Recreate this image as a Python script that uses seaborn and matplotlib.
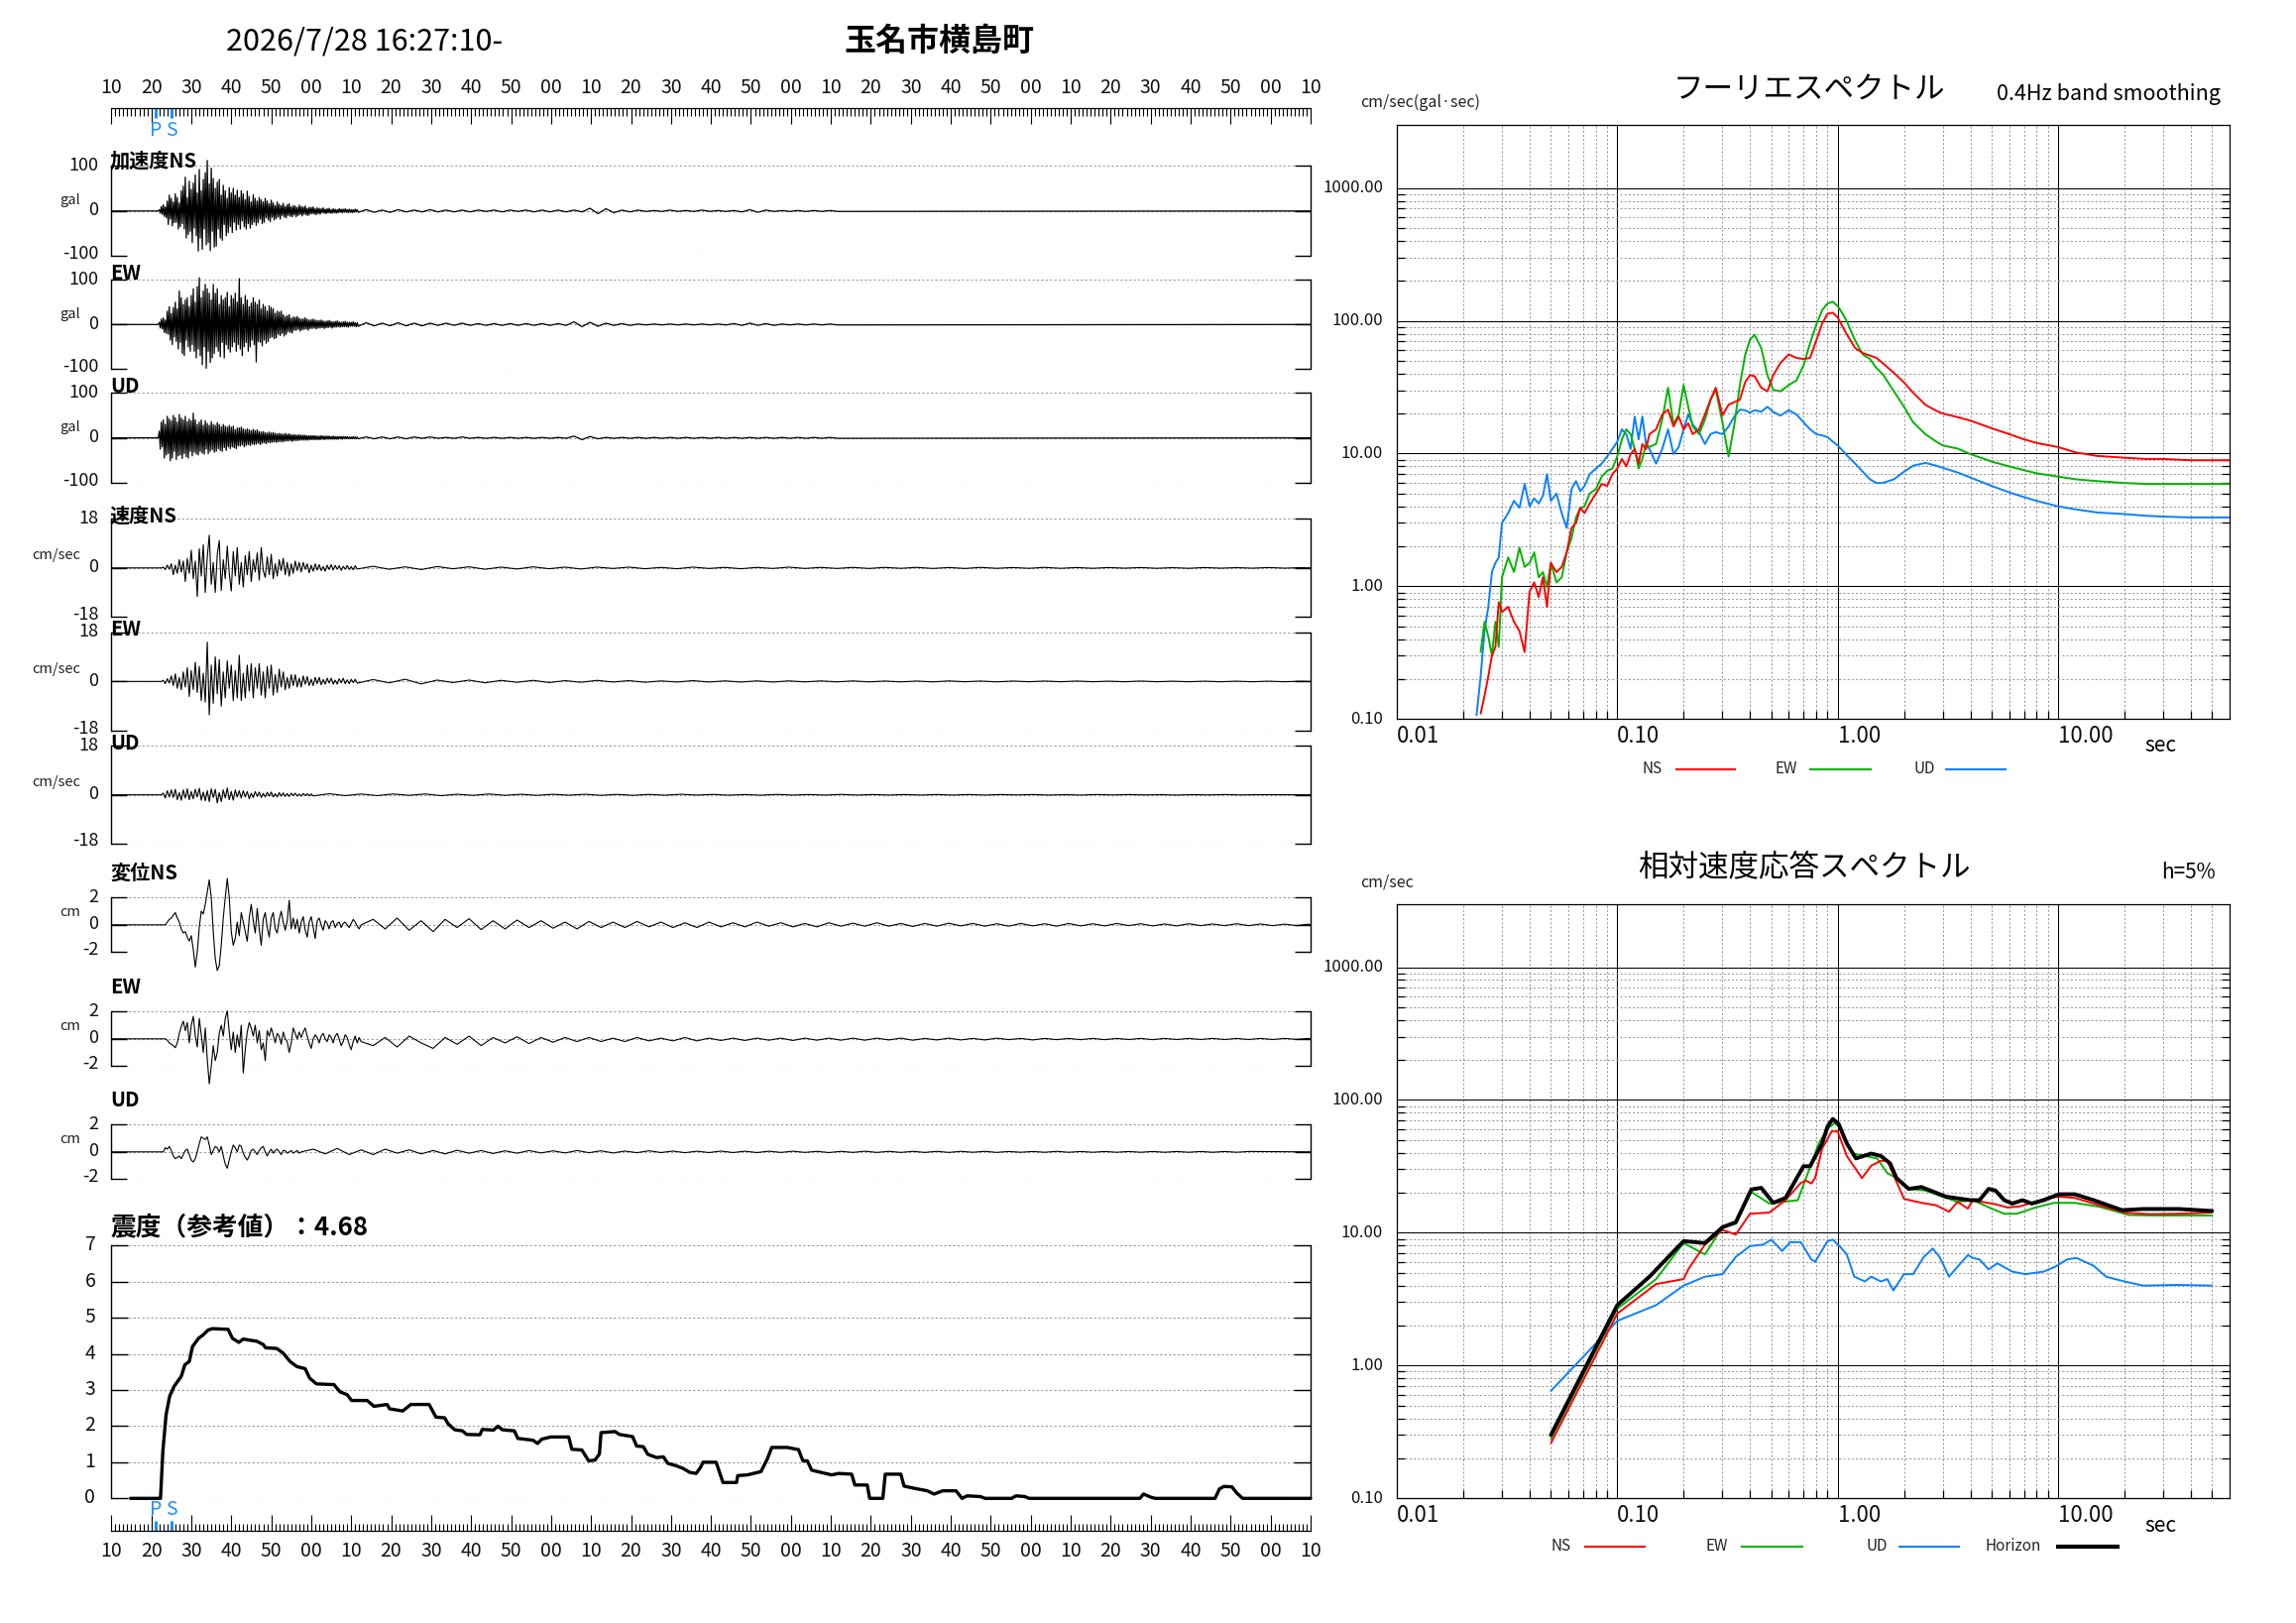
import numpy as np
import matplotlib
matplotlib.use("Agg")
import matplotlib.pyplot as plt
import seaborn as sns
from matplotlib.lines import Line2D
from matplotlib.ticker import MultipleLocator, FuncFormatter, NullFormatter
from matplotlib.transforms import ScaledTranslation

# ============================ DATA ============================
START_SEC = 10          # record starts 16:27:10
P_TIME = 11.2           # seconds after start
S_TIME = 15.1

ACC_T0, ACC_DT, ACC_TAIL_DT = 12.0, 0.25, 2.0
VEL_T0, VEL_DT, VEL_TAIL_DT = 13.0, 0.5, 4.0
DISP_T0, DISP_DT, DISP_TAIL_DT = 13.0, 0.5, 3.0

# acceleration (gal), peaks every 0.25 s
ACC_NS = [3,-5,10,-8,14,-12,9,-15, 22,-30,35,-18,28,-33,20,-26, 38,-25,30,-40,18,-35,45,-28,
          55,-40,75,-60,30,-52,66,-45, 48,-70,62,-38,80,-55,40,-89, 92,-60,45,-85,70,-40,85,-75,
          112,-70,60,-88,95,-45,72,-80, 50,-78,64,-40,70,-60,35,-65, 57,-30,45,-55,28,-48,52,-35,
          40,-48,50,-25,35,-42,46,-30, 30,-40,45,-22,38,-35,25,-40, 44,-28,32,-38,20,-30,36,-25,
          28,-32,22,-26,30,-18,25,-28, 20,-25,28,-15,22,-20,16,-24, 24,-14,18,-20,12,-17,20,-13,
          15,-18,12,-10,17,-14,10,-15, 14,-10,16,-12,9,-13,12,-9, 11,-13,8,-10,13,-8,10,-11,
          9,-7,11,-9,6,-10,8,-7, 8,-6,9,-7,5,-8,7,-6, 6,-7,5,-4,7,-5,4,-6, 5,-4,6,-5,3,-5,5,-4,
          4,-5,3,-4,5,-3,4,-4, 4,-3,5,-3,3,-4,4,-3, 3,-4,3,-3,4,-2,3,-3]
ACC_NS_TAIL = [3,-3,2,-3,3,-2,2,-2,3,-2, 2,-2,2,-2,2,-1,2,-2,2,-1, 2,-2,2,-2,2,-2,2,-2,6,-6,
               5,-4,2,-2,2,-1,1,-1,2,-1, 1,-1,2,-1,1,-1,1,-2,3,-3, 2,-1,1,-1,1,-1,1,-1,1,-1]
ACC_EW = [5,-8,12,-10,15,-18,10,-20, 30,-22,40,-35,25,-45,38,-28, 50,-38,35,-55,75,-40,60,-65,
          45,-70,55,-35,60,-50,40,-60, 65,-45,80,-60,50,-75,85,-55, 105,-70,60,-90,75,-50,90,-98,
          80,-60,70,-85,55,-75,90,-65, 70,-50,80,-60,45,-72,65,-40, 55,-75,60,-45,72,-55,40,-62,
          65,-50,58,-40,70,-60,50,-45, 103,-55,60,-70,45,-50,65,-40, 55,-60,40,-50,48,-35,60,-45,
          50,-84,45,-38,55,-40,35,-48, 45,-35,40,-42,30,-38,42,-30, 38,-28,35,-32,25,-30,30,-22,
          28,-25,30,-20,22,-26,18,-22, 20,-16,22,-18,14,-19,17,-13, 16,-13,18,-11,14,-15,12,-12,
          13,-11,15,-10,12,-13,10,-9, 11,-9,12,-8,10,-10,9,-8, 9,-8,10,-7,8,-9,7,-7, 8,-7,9,-6,7,-8,6,-6,
          7,-6,8,-5,6,-6,5,-5, 6,-5,7,-5,5,-6,5,-4, 5,-4,6,-4,4,-5,4,-4]
ACC_EW_TAIL = [4,-3,3,-3,4,-3,3,-3,3,-2, 3,-2,3,-2,2,-2,2,-2,2,-2, 2,-2,2,-2,2,-2,6,-5,5,-4,
               3,-2,2,-2,1,-1,1,-1,1,-1, 1,-1,1,-1,1,-1,2,-2,3,-2, 2,-2,1,-1,1,-1,1,-1,1,-1]
ACC_UD = [15,-25,35,-20,40,-45,30,-38, 48,-35,42,-51,38,-45,50,-30, 45,-48,35,-40,52,-38,44,-46,
          40,-35,48,-42,36,-45,42,-30, 38,-40,55,-32,40,-36,30,-38, 35,-30,40,-34,28,-36,38,-25,
          32,-35,28,-30,36,-26,30,-32, 28,-30,34,-24,30,-28,25,-30, 30,-22,26,-28,24,-20,28,-24,
          24,-20,26,-22,18,-24,22,-18, 22,-18,24,-16,20,-20,18,-17, 20,-15,18,-17,16,-14,19,-15,
          16,-14,18,-12,14,-15,13,-12, 14,-11,12,-13,11,-10,13,-11, 11,-10,12,-9,10,-10,9,-9,
          10,-8,9,-9,8,-8,10,-7, 8,-7,9,-6,7,-8,7,-6, 7,-6,6,-6,7,-5,6,-5, 6,-5,6,-5,5,-5,5,-4,
          5,-4,5,-4,5,-4,4,-4, 4,-4,5,-3,4,-4,4,-3, 4,-3,4,-3,3,-3,4,-3, 3,-3,3,-3,3,-2,3,-3,
          3,-2,3,-2,3,-2,2,-2, 2,-2,3,-2,2,-2,2,-2]
ACC_UD_TAIL = [2,-2,2,-2,2,-2,2,-1,2,-1, 1,-1,2,-1,1,-1,1,-1,1,-1, 1,-1,1,-1,1,-1,4,-4,3,-2,
               1,-1,1,-1,1,-1,1,-1,1,-1, 1,-1,1,-1,1,-1,1,-1,1,-1, 1,-1,1,-1,1,-1,1,-1,1,-1]

# velocity (cm/sec), every 0.5 s
VEL_NS = [0.3,-0.6,1.0,-0.5, 1.5,-2.5,1.0,-2.0,3.0,-1.5, 2.5,-5.0,3.5,-2.0,6.5,-4.0,
          2.5,-10.5,7.0,-3.0,8.5,-9.0, 4.0,12.0,-6.0,2.0,-9.0,5.0, 10.0,-8.3,3.0,-4.0,8.0,-2.0,
          -8.5,6.0,-3.0,7.5,-6.0,2.0, -7.0,4.5,-2.5,6.0,-5.0,3.0, -1.5,5.5,-4.5,7.5,-1.0,-3.5,
          4.0,-2.5,5.0,-4.0,1.5,-3.0, 3.0,-1.0,3.5,-2.5,2.0,-3.0, 1.5,-2.0,2.5,-1.0,2.0,-1.5,
          2.0,-0.5,1.5,-1.8,1.0,-1.2, 1.5,-0.8,1.2,-1.0,0.5,-1.2, 1.0,-0.6,1.2,-0.8,0.9,-0.5,
          0.8,-0.9,0.6,-0.5,0.9,-0.6, 0.5,-0.7,0.8,-0.4]
VEL_NS_TAIL = [0.6,-0.5,0.4,-0.6,0.5,-0.3,0.4,-0.5,0.3,-0.4, 0.4,-0.3,0.3,-0.4,0.3,-0.2,0.3,-0.3,0.2,-0.3,
               0.3,-0.2,0.2,-0.3,0.2,-0.2,0.3,-0.2,0.2,-0.2, 0.2,-0.2,0.2,-0.15,0.2,-0.2,0.15,-0.2,0.2,-0.15,
               0.15,-0.15,0.2,-0.15,0.15,-0.15,0.15,-0.1,0.15,-0.15, 0.1,-0.15,0.15,-0.1,0.1,-0.1,0.15,-0.1,0.1]
VEL_EW = [0.4,-0.8,1.0,-0.6, 2.0,-1.5,2.8,-2.5,1.5,-3.0, 3.5,-2.0,5.0,-5.5,4.0,-3.0,
          7.0,-4.0,5.5,-7.0,3.0,-7.5, 14.4,-12.2,6.0,-8.0,9.0,-4.5, 8.0,-9.0,3.5,-6.0,7.5,-2.5,
          6.0,-7.0,4.0,-6.0,9.6,-7.0, 3.0,-6.0,6.0,-3.5,6.5,-6.0, 5.0,-2.5,6.5,-5.0,3.5,-6.0,
          5.5,-2.5,6.0,-5.0,2.5,-4.0, 4.5,-2.0,3.5,-3.0,1.5,-2.5, 2.5,-1.5,2.5,-2.0,1.2,-2.0,
          2.0,-1.0,1.8,-1.5,0.8,-1.5, 1.5,-0.8,1.5,-1.2,0.7,-1.0, 1.2,-0.6,1.2,-1.0,0.5,-1.0,
          1.0,-0.5,1.2,-0.8,0.6,-0.8, 0.8,-0.4,0.8,-0.6]
VEL_EW_TAIL = [0.7,-0.5,0.8,-0.9,0.5,-0.4,0.5,-0.5,0.4,-0.3, 0.4,-0.4,0.3,-0.3,0.4,-0.2,0.3,-0.3,0.2,-0.2,
               0.3,-0.2,0.2,-0.2,0.2,-0.2,0.2,-0.15,0.2,-0.15, 0.2,-0.15,0.15,-0.15,0.15,-0.15,0.2,-0.1,0.15,-0.15,
               0.15,-0.1,0.15,-0.1,0.15,-0.1,0.1,-0.1,0.15,-0.1, 0.1,-0.1,0.1,-0.1,0.1,-0.1,0.1,-0.1,0.1]
VEL_UD = [0.6,-1.2,1.5,-0.8, 1.8,-1.0,2.0,-1.8,0.8,-2.0, 1.8,-1.2,2.2,-1.8,1.2,-1.5, 2.0,-0.8,2.4,-2.0,1.0,-2.2,
          1.5,-2.5,2.2,-1.0,2.0,-3.0, 0.8,-2.5,1.8,-1.2,2.5,-1.8, 1.2,-2.0,1.8,-0.8,1.5,-1.2,
          1.5,-0.8,1.2,-1.5,0.6,-1.0, 1.2,-0.6,1.0,-1.0,0.5,-0.8, 0.9,-0.5,1.0,-0.8,0.4,-0.8,
          0.8,-0.5,0.7,-0.6,0.4,-0.6, 0.6,-0.3,0.6,-0.5,0.3,-0.5, 0.5,-0.3,0.4,-0.4,0.3,-0.4]
VEL_UD_TAIL = [0.4,-0.3,0.3,-0.3,0.3,-0.2,0.3,-0.3,0.2,-0.2, 0.3,-0.2,0.2,-0.2,0.2,-0.15,0.2,-0.2,0.15,-0.2,
               0.15,-0.15,0.2,-0.1,0.15,-0.15,0.1,-0.15,0.15,-0.1, 0.1,-0.1,0.15,-0.1,0.1,-0.1,0.1,-0.1,0.1,-0.1,
               0.1,-0.1,0.1,-0.05,0.1,-0.1,0.05,-0.1,0.1,-0.05, 0.1,-0.05,0.05,-0.1,0.05,-0.05,0.1,-0.05,0.05]

# displacement (cm), every 0.5 s
DISP_NS = [0,0,0.2,0.4, 0.5,0.7,0.9,0.5,0.2,-0.3, -0.6,-0.5,-0.9,-1.2,-0.8,-1.8, -3.1,-2.0,-0.2,1.0,0.8,1.5,
           2.4,3.3,2.0,-0.5,-2.5,-3.35, -3.0,-1.5,0.5,2.0,3.4,2.0, -0.5,-1.5,-1.0,0.2,-0.8,0.9,
           0.2,-0.5,-1.2,0.5,1.5,0.3, -0.6,1.2,-0.3,-1.5,0.4,0.9, -0.2,-0.9,0.5,0.9,-0.3,-0.6,
           0.4,1.0,0.2,-0.4,0.3,1.8, -0.3,0.5,-0.3,0.4,-0.6,0.2, 0.6,-0.4,-0.9,0.2,0.6,-0.2,
           -1.0,0.3,0.5,0.0,-0.4,0.3, 0.1,-0.3,0.2,0.3,-0.2,0.1, 0.2,-0.2,0.1,0.2,0.0,-0.2, 0.1,0.4,0.2,-0.1,-0.3,0.0]
DISP_NS_TAIL = [0.4,-0.3,0.5,-0.4,0.3,-0.5,0.4,-0.2,0.45,-0.35, 0.3,-0.3,0.35,-0.2,0.3,-0.25,0.2,-0.3,0.25,-0.2,
                0.2,-0.2,0.25,-0.15,0.2,-0.2,0.15,-0.2,0.2,-0.15, 0.15,-0.15,0.2,-0.1,0.15,-0.15,0.1,-0.15,0.15,-0.1,
                0.12,-0.1,0.15,-0.1,0.1,-0.12,0.1,-0.1,0.12,-0.08, 0.1,-0.1,0.08,-0.1,0.1,-0.08,0.08,-0.1,0.1,-0.08,
                0.08,-0.08,0.1,-0.06,0.08,-0.08,0.06,-0.08,0.08,-0.06, 0.06,-0.06,0.08,-0.06,0.06,-0.06,0.05,-0.06,0.05]
DISP_EW = [0,0,-0.1,-0.3, -0.4,-0.5,-0.65,-0.3,0.4,0.9, 1.3,0.6,1.2,-0.3,1.0,1.65, 0.2,-0.6,1.5,0.3,-1.0,0.8,
           -1.5,-3.3,-2.0,-0.5,-1.6,-1.0, 0.4,1.0,0.2,1.5,2.05,0.5, -0.8,0.5,-1.0,0.3,-0.6,1.0,
           -2.5,-0.8,0.5,1.2,0.8,0.2, 1.0,-0.3,0.6,-0.8,-0.3,-1.6, 0.6,0.2,0.8,0.3,-0.3,0.4,
           0.2,-0.4,0.5,0.0,-0.2,-1.0, -0.3,0.8,0.4,0.0,0.5,0.1, 0.5,0.8,0.2,-0.3,-0.7,0.0,
           0.3,0.1,-0.3,0.2,0.4,0.0, -0.2,0.3,0.1,-0.3,0.2,0.4, 0.0,-0.5,-0.2,0.3,0.1,-0.4, -0.8,-0.2,0.2,-0.3,0.1,-0.2]
DISP_EW_TAIL = [-0.5,0.1,-0.6,0.2,-0.3,-0.7,0.1,-0.4,0.2,-0.5, 0.1,-0.3,0.15,-0.35,0.1,-0.25,0.1,-0.2,0.1,-0.2,
                0.05,-0.2,0.1,-0.15,0.05,-0.15,0.1,-0.15,0.05,-0.12, 0.05,-0.12,0.05,-0.1,0.05,-0.12,0.05,-0.1,0.05,-0.1,
                0.05,-0.1,0.05,-0.08,0.05,-0.1,0.03,-0.08,0.05,-0.08, 0.03,-0.08,0.05,-0.06,0.03,-0.08,0.03,-0.06,0.03,-0.06,
                0.03,-0.06,0.03,-0.05,0.03,-0.06,0.03,-0.05,0.03,-0.05, 0.03,-0.05,0.03,-0.05,0.03,-0.05,0.03,-0.04,0.03]
DISP_UD = [0,0.3,0.2,0.4, 0.1,-0.3,-0.5,-0.4,-0.3,-0.5, -0.2,0.1,0.2,-0.2,-0.6,-0.75, -0.5,0.0,0.6,1.1,1.0,0.9,
           1.1,0.5,-0.2,0.1,0.4,0.3, 0.0,0.4,-0.3,-0.9,-1.2,-0.6, 0.0,0.5,0.3,0.0,0.5,0.4,
           -0.1,-0.4,-0.6,-0.3,0.1,0.2, 0.0,-0.2,0.1,0.3,0.4,0.0, -0.3,0.0,0.2,-0.1,0.1,0.2,
           0.0,-0.2,0.1,0.1,-0.1,0.0, 0.1,-0.1,0.0,0.1,-0.1,0.0]
DISP_UD_TAIL = [0.2,-0.15,0.25,-0.2,0.15,-0.2,0.2,-0.1,0.15,-0.15, 0.1,-0.15,0.12,-0.1,0.1,-0.12,0.08,-0.1,0.1,-0.08,
                0.08,-0.08,0.1,-0.06,0.08,-0.08,0.06,-0.06,0.08,-0.05, 0.06,-0.06,0.05,-0.05,0.06,-0.05,0.05,-0.05,0.05,-0.04,
                0.05,-0.04,0.04,-0.05,0.04,-0.04,0.05,-0.04,0.04,-0.04, 0.04,-0.04,0.04,-0.04,0.04,-0.03,0.04,-0.04,0.03,-0.03,
                0.03,-0.03,0.04,-0.03,0.03,-0.03,0.03,-0.03,0.03,-0.03, 0.03,-0.03,0.03,-0.03,0.03,-0.03,0.03,-0.03,0.03]

# seismic intensity (time s, value)
INTENSITY = [(4.8,0),(12.3,0),(12.9,1.32),(13.7,2.32),(14.6,2.83),(15.7,3.10),(17.5,3.38),(18.4,3.70),
    (19.5,3.79),(20.3,4.20),(21.8,4.43),(22.9,4.52),(24.2,4.66),(25.3,4.70),(29.2,4.68),(30.3,4.43),
    (31.9,4.32),(33.0,4.41),(36.4,4.35),(38.0,4.26),(38.6,4.17),(41.4,4.15),(43.0,4.02),(44.7,3.79),
    (46.4,3.65),(48.5,3.59),(49.6,3.33),(51.3,3.17),(55.7,3.15),(57.2,2.95),(59.0,2.87),(60.1,2.71),
    (64.0,2.71),(65.7,2.55),(69.0,2.60),(69.6,2.48),(72.9,2.42),(74.9,2.60),(79.5,2.60),(81.2,2.25),
    (83.4,2.23),(84.2,2.07),(85.9,1.90),(87.8,1.87),(88.9,1.77),(92.2,1.76),(92.8,1.91),(95.6,1.89),
    (96.7,2.00),(97.8,1.90),(100.8,1.87),(101.7,1.66),(105.5,1.61),(106.6,1.52),(107.7,1.64),(109.9,1.70),
    (114.4,1.70),(115.2,1.36),(117.7,1.34),(119.4,1.04),(121.0,1.06),(122.1,1.23),(122.5,1.82),(126.0,1.85),
    (127.1,1.77),(130.4,1.71),(131.4,1.45),(133.1,1.43),(134.2,1.22),(136.4,1.13),(138.1,1.15),(139.2,0.97),
    (141.4,0.90),(143.0,0.83),(144.7,0.72),(146.3,0.69),(147.4,0.86),(148.0,1.00),(151.3,1.00),(153.0,0.44),
    (156.4,0.44),(156.7,0.63),(159.1,0.65),(162.5,0.74),(164.1,1.09),(165.2,1.41),(169.1,1.41),(171.9,1.35),
    (173.0,1.04),(174.1,1.04),(175.2,0.78),(177.5,0.72),(180.2,0.65),(181.9,0.69),(185.2,0.67),(186.0,0.37),
    (189.1,0.37),(189.7,0),(193.0,0),(193.6,0.67),(197.5,0.67),(198.3,0.34),(200.8,0.28),(204.1,0.21),
    (205.8,0.12),(208.0,0.21),(211.3,0.21),(212.8,0),(214.1,0.07),(217.4,0.05),(218.6,0),(225.2,0),
    (226.3,0.07),(228.5,0.05),(229.6,0),(257.3,0),(258.2,0.12),(260.1,0.03),(261.2,0),(276.1,0),
    (277.2,0.26),(278.3,0.33),(280.3,0.32),(281.6,0.14),(283.0,0),(300.0,0)]
INTENSITY_VALUE = "4.68"

# Fourier spectra (period s / cm/sec)
F_PERIOD = [0.023,0.024,0.025,0.026,0.027,0.028,0.029,0.030,0.032,0.034,0.036,0.038,0.040,0.042,0.044,0.046,
    0.048,0.050,0.053,0.056,0.059,0.062,0.065,0.068,0.071,0.075,0.080,0.085,0.090,0.095,0.100,0.105,0.110,
    0.115,0.120,0.125,0.130,0.135,0.140,0.150,0.160,0.170,0.180,0.190,0.200,0.210,0.220,0.235,0.250,0.265,
    0.280,0.300,0.320,0.340,0.360,0.380,0.400,0.420,0.450,0.480,0.510,0.550,0.600,0.650,0.700,0.750,0.800,
    0.850,0.900,0.950,1.00,1.05,1.10,1.20,1.30,1.40,1.50,1.60,1.80,2.00,2.20,2.50,2.80,3.00,3.50,4.00,5.00,
    6.00,7.00,8.00,10.0,12.0,15.0,20.0,25.0,30.0,40.0,50.0,60.0]
F_NS = [np.nan,0.11,0.15,0.21,0.30,0.35,0.76,0.64,0.70,0.54,0.46,0.32,0.91,1.07,0.83,1.17,
    0.70,1.5,1.28,1.4,1.8,2.75,3.0,3.9,3.56,4.2,5.0,5.9,5.7,7.0,7.7,9.1,8.0,
    9.9,10.8,8.4,11.8,10.8,14,15.2,19.7,21.4,16,19,15.2,16.9,14,15.2,19.7,25.4,
    31.3,19.4,23.3,24.4,25.4,34.3,38.9,38.2,31.3,29.4,38.9,48,55.8,52.5,51.5,52.5,71,
    95,113,115,106,91,79,62.4,57.1,54.7,52.5,48,40.5,34.3,28.7,23.3,21,20,18.8,17.7,15.5,
    14,12.8,12,11.2,10.2,9.6,9.3,9.1,9.1,8.9,8.9,8.9]
F_EW = [np.nan,0.32,0.54,0.42,0.30,0.54,0.35,1.17,1.65,1.28,1.95,1.4,1.5,1.8,1.17,1.28,
    0.99,1.5,1.07,1.17,1.8,2.3,3.3,3.9,4.0,5.0,5.4,6.7,7.4,7.7,9.5,12.8,15.2,
    14,10.8,7.7,9.1,11.8,11.2,11.8,18,31.3,16.6,19.7,32.8,22.5,16,14,18,25.4,
    30.2,17.2,9.5,16.6,32.8,54.7,72,78.5,62.4,38.9,30.2,29.4,32.8,35.5,46.1,67.9,93.4,
    120,135,139,129,114,99,71,55.8,51.5,44,39.7,29.4,22.5,17.2,14,12.3,11.5,10.9,9.9,8.7,
    8.0,7.5,7.1,6.7,6.4,6.2,6.0,5.9,5.9,5.9,5.9,5.9]
F_UD = [0.107,0.21,0.46,0.70,1.28,1.5,1.65,3.0,3.56,4.4,3.9,5.9,4.0,4.6,4.2,4.8,
    7.0,4.4,5.0,3.56,2.75,5.4,6.2,5.2,5.7,7.0,7.7,8.4,9.5,10.8,12.3,15.2,14,
    10.8,19,12.8,19,11.8,10.8,8.4,10.8,15.2,9.9,11.2,15.2,19.7,16.6,14.5,11.8,14,
    14.5,14,16,19,21.4,21.2,20.3,21.2,20.6,22.5,20.6,19.3,21.2,19.7,17.2,15.2,14,
    13.7,13.3,12.3,11.5,10.6,9.7,8.4,7.3,6.4,6.0,6.0,6.4,7.3,8.1,8.5,8.1,7.8,7.2,6.6,5.7,
    5.1,4.7,4.4,4.0,3.8,3.6,3.5,3.4,3.35,3.3,3.3,3.3]

# Relative velocity response spectra h=5% (period s, cm/sec)
R_NS = [(0.05,0.26),(0.10,2.46),(0.15,4.11),(0.20,4.48),(0.21,5.3),(0.25,8.15),(0.30,10.5),(0.345,9.7),
    (0.40,13.9),(0.49,14.2),(0.58,17.6),(0.68,23.7),(0.72,24.7),(0.76,23.5),(0.79,25.8),(0.85,43),(0.94,58),
    (1.0,58),(1.1,37.9),(1.21,30.1),(1.29,25.8),(1.42,32),(1.57,34.8),(1.68,34.8),(2.0,18),(2.4,16.8),
    (2.8,16.1),(3.2,14.4),(3.5,17.1),(3.9,15.2),(4.1,17.6),(4.5,17.1),(5.2,16.4),(5.9,15.5),(6.7,15.8),
    (7.6,16.8),(9.0,18.3),(10.1,18.7),(11.9,18.3),(14.5,16.6),(20,14.2),(26,13.8),(35,13.9),(50,14.2)]
R_EW = [(0.05,0.28),(0.10,2.68),(0.15,4.48),(0.20,8.36),(0.25,6.87),(0.30,11.0),(0.345,11.7),(0.406,20.3),
    (0.49,16.6),(0.66,17.6),(0.74,29.4),(0.82,47),(0.90,60.7),(0.97,67.1),(1.03,60.7),(1.17,39.5),(1.33,37.9),
    (1.51,36.3),(1.68,28.1),(1.85,25.8),(2.1,21.4),(2.5,20.8),(3.1,18.3),(3.5,17.1),(4.1,17.6),(5.0,15.2),
    (5.7,13.9),(6.5,13.9),(7.9,15.5),(9.6,16.8),(11.9,16.8),(15.4,15.7),(21,13.6),(27.6,13.5),(50,13.5)]
R_UD = [(0.05,0.644),(0.10,2.17),(0.15,2.85),(0.20,4.0),(0.25,4.67),(0.30,4.88),(0.345,6.58),(0.40,7.94),
    (0.46,8.15),(0.50,8.87),(0.56,7.3),(0.61,8.5),(0.68,8.5),(0.76,6.3),(0.79,6.04),(0.90,8.65),(0.95,8.87),
    (1.03,7.8),(1.10,6.87),(1.19,4.67),(1.33,4.3),(1.42,4.67),(1.57,4.3),(1.68,4.48),(1.79,3.68),(2.0,4.88),
    (2.2,4.88),(2.46,6.58),(2.7,7.6),(2.9,6.58),(3.2,4.67),(3.5,5.55),(3.9,6.8),(4.1,6.47),(4.4,6.3),
    (4.84,5.3),(5.3,5.89),(6.2,5.1),(7.1,4.88),(8.6,5.1),(9.7,5.55),(11.0,6.3),(12.1,6.47),(14.5,5.64),
    (16.5,4.67),(20,4.3),(24.3,4.0),(35,4.05),(50,4.0)]
R_H = [(0.05,0.30),(0.10,2.85),(0.14,4.67),(0.20,8.65),(0.25,8.36),(0.30,11.0),(0.345,12.0),(0.406,21.2),
    (0.45,21.8),(0.51,16.8),(0.58,18.3),(0.70,31.7),(0.75,31.7),(0.85,47),(0.90,63.2),(0.95,71.9),(1.01,66.1),
    (1.10,47),(1.21,36.3),(1.42,39.5),(1.57,37.9),(1.73,33.3),(1.85,25.8),(2.1,21.4),(2.4,22.1),(3.1,18.7),
    (4.0,17.6),(4.4,17.6),(4.84,21.4),(5.2,20.8),(5.7,17.6),(6.2,16.6),(6.9,17.6),(7.6,16.6),(8.6,17.6),
    (10.1,19.5),(11.9,19.5),(14.5,17.6),(19.5,14.8),(24.3,15.1),(35.3,15.1),(50,14.6)]

TITLE_TIME = "2026/7/28 16:27:10-"
TITLE_SITE = "玉名市横島町"

# ============================ STYLE / LAYOUT ============================
sns.set_theme(style="white")
plt.rcParams['font.family'] = ['Noto Sans CJK JP', 'DejaVu Sans']
plt.rcParams['axes.unicode_minus'] = False

W, H = 2316, 1637
fig = plt.figure(figsize=(W / 100, H / 100), dpi=100, facecolor='white')

RED, GREEN, BLUE, PSBLUE = '#ff0000', '#00b400', '#0a80ff', '#1e8fff'
GRID_GRAY = '#9a9a9a'
DOT = (0, (2, 2))


def pt(pixels):
    return pixels * 72.0 / 100.0


def px_axes(x0, y0, x1, y1):
    return fig.add_axes([x0 / W, 1 - y1 / H, (x1 - x0) / W, (y1 - y0) / H])


def ftext(x, y, s, size, ha='left', va='center', weight='normal', color='black'):
    fig.text(x / W, 1 - y / H, s, fontsize=size, ha=ha, va=va, fontweight=weight, color=color)


def fline(x0, x1, y, color, lw):
    fig.add_artist(Line2D([x0 / W, x1 / W], [1 - y / H, 1 - y / H], transform=fig.transFigure,
                          color=color, lw=lw, solid_capstyle='butt'))


X0, X1 = 112.3, 1322.0


def build(t0, dt, main, tail, tail_dt):
    tm = t0 + dt * np.arange(len(main))
    tt = tm[-1] + tail_dt * np.arange(1, len(tail) + 1)
    t = np.concatenate([[0.0, t0 - dt], tm, tt, [300.0]])
    v = np.concatenate([[0.0, 0.0], main, tail, [0.0]])
    keep = t <= 300
    return t[keep], v[keep]


def raise_labels(ax, shifts):
    for lbl, dy in zip(ax.get_yticklabels(), shifts):
        lbl.set_transform(lbl.get_transform() + ScaledTranslation(0, dy / 100.0, fig.dpi_scale_trans))


def trace_panel(y0, y1, lim, t, v, labels, lw):
    ax = px_axes(X0, y0, X1, y1)
    sns.lineplot(x=t, y=v, ax=ax, color='black', linewidth=lw, estimator=None, sort=False)
    ax.lines[-1].set_clip_on(False)
    ax.set_xlim(0, 300)
    ax.set_ylim(-lim, lim)
    ax.patch.set_alpha(0)
    for s in ('top', 'bottom'):
        ax.spines[s].set_visible(False)
    for s in ('left', 'right'):
        ax.spines[s].set_visible(True)
        ax.spines[s].set_color('black')
        ax.spines[s].set_linewidth(1.0)
    ax.set_xticks([])
    ax.set_yticks([-lim, 0, lim])
    ax.set_yticklabels(labels)
    ax.tick_params(axis='y', which='major', direction='in', length=pt(16), width=1.0,
                   left=True, right=True, labelleft=True, labelright=False,
                   labelsize=13, pad=pt(13), color='black', labelcolor='#111111')
    ax.grid(axis='y', color=GRID_GRAY, lw=0.8, ls=DOT)
    ax.set_axisbelow(True)
    ax.set_xlabel('')
    ax.set_ylabel('')
    raise_labels(ax, [4.5, 2.5, 2.5])
    return ax


# ---- titles
ftext(228, 41.7, TITLE_TIME, 22)
ftext(852, 41.7, TITLE_SITE, 23, weight='bold')


# ---- time bars
def time_bar(y0, y1, top):
    ax = px_axes(X0, y0, X1, y1)
    ax.set_xlim(0, 300)
    ax.set_ylim(0, 1)
    ax.patch.set_alpha(0)
    for s in ax.spines.values():
        s.set_visible(False)
    sp = ax.spines['top' if top else 'bottom']
    sp.set_visible(True)
    sp.set_color('black')
    sp.set_linewidth(0.9)
    ax.xaxis.set_major_locator(MultipleLocator(10))
    ax.xaxis.set_minor_locator(MultipleLocator(1))
    ax.xaxis.set_major_formatter(FuncFormatter(lambda v, p: f"{int(round(START_SEC + v)) % 60:02d}"))
    ax.xaxis.set_ticks_position('top' if top else 'bottom')
    ax.tick_params(axis='x', which='major', direction='in', length=pt(16), width=0.8, color='black',
                   top=top, bottom=not top, labeltop=top, labelbottom=not top,
                   labelsize=14, pad=pt(10), labelcolor='#111111')
    ax.tick_params(axis='x', which='minor', direction='in', length=pt(7.5), width=0.8, color='black',
                   top=top, bottom=not top)
    ax.set_yticks([])
    ax.grid(False)
    return ax


tb = time_bar(109.3, 126.0, True)
tb.vlines([P_TIME, S_TIME], 0.42, 1.0, colors=PSBLUE, lw=2.2, clip_on=False)
bb = time_bar(1528.0, 1544.3, False)
bb.vlines([P_TIME, S_TIME], 0.0, 0.63, colors=PSBLUE, lw=2.2, clip_on=False)


def t2x(t):
    return X0 + t * (X1 - X0) / 300.0


for yy in (131.7, 1522.7):
    ftext(t2x(P_TIME), yy, 'P', 14, ha='center', color=PSBLUE)
    ftext(t2x(S_TIME), yy, 'S', 14, ha='center', color=PSBLUE)

# ---- waveform panels
ACC_LAB = ['-100', '0', '100']
VEL_LAB = ['-18', '0', '18']
DISP_LAB = ['-2', '0', '2']
panels = [
    (167.3, 258.3, 100, build(ACC_T0, ACC_DT, ACC_NS, ACC_NS_TAIL, ACC_TAIL_DT), ACC_LAB, '加速度NS', 162.0, 'gal', 202.0, 0.9),
    (282.3, 372.3, 100, build(ACC_T0, ACC_DT, ACC_EW, ACC_EW_TAIL, ACC_TAIL_DT), ACC_LAB, 'EW', 276.0, 'gal', 316.6, 0.9),
    (396.3, 487.0, 100, build(ACC_T0, ACC_DT, ACC_UD, ACC_UD_TAIL, ACC_TAIL_DT), ACC_LAB, 'UD', 389.3, 'gal', 431.0, 0.9),
    (523.3, 622.3, 18, build(VEL_T0, VEL_DT, VEL_NS, VEL_NS_TAIL, VEL_TAIL_DT), VEL_LAB, '速度NS', 520.7, 'cm/sec', 560.0, 0.8),
    (637.7, 737.0, 18, build(VEL_T0, VEL_DT, VEL_EW, VEL_EW_TAIL, VEL_TAIL_DT), VEL_LAB, 'EW', 635.0, 'cm/sec', 675.4, 0.8),
    (752.3, 851.0, 18, build(VEL_T0, VEL_DT, VEL_UD, VEL_UD_TAIL, VEL_TAIL_DT), VEL_LAB, 'UD', 750.0, 'cm/sec', 789.4, 0.8),
    (905.3, 960.3, 2, build(DISP_T0, DISP_DT, DISP_NS, DISP_NS_TAIL, DISP_TAIL_DT), DISP_LAB, '変位NS', 880.0, 'cm', 920.0, 0.8),
    (1020.3, 1075.3, 2, build(DISP_T0, DISP_DT, DISP_EW, DISP_EW_TAIL, DISP_TAIL_DT), DISP_LAB, 'EW', 995.0, 'cm', 1035.4, 0.8),
    (1134.3, 1189.3, 2, build(DISP_T0, DISP_DT, DISP_UD, DISP_UD_TAIL, DISP_TAIL_DT), DISP_LAB, 'UD', 1109.3, 'cm', 1149.4, 0.8),
]
for y0, y1, lim, (t, v), labs, name, ny, unit, uy, lw in panels:
    trace_panel(y0, y1, lim, t, v, labs, lw)
    ftext(111, ny, name, 14.5, weight='bold')
    ftext(81, uy, unit, 10.5, ha='right', color='#222222')

# ---- intensity panel
it = np.array([p[0] for p in INTENSITY])
iv = np.array([p[1] for p in INTENSITY])
ax_i = px_axes(X0, 1256.3, X1, 1511.3)
sns.lineplot(x=it, y=iv, ax=ax_i, color='black', linewidth=2.4, estimator=None, sort=False)
ax_i.lines[-1].set_clip_on(False)
ax_i.set_xlim(0, 300)
ax_i.set_ylim(0, 7)
ax_i.patch.set_alpha(0)
for s in ('top', 'bottom'):
    ax_i.spines[s].set_visible(False)
for s in ('left', 'right'):
    ax_i.spines[s].set_visible(True)
    ax_i.spines[s].set_color('black')
    ax_i.spines[s].set_linewidth(1.0)
ax_i.set_xticks([])
ax_i.set_yticks(range(8))
ax_i.tick_params(axis='y', direction='in', length=pt(17), width=1.0, left=True, right=True,
                 labelleft=True, labelright=False, labelsize=14, pad=pt(16), color='black',
                 labelcolor='#111111')
ax_i.grid(axis='y', color=GRID_GRAY, lw=0.8, ls=DOT)
ax_i.set_axisbelow(True)
ax_i.set_xlabel('')
ax_i.set_ylabel('')
raise_labels(ax_i, [3] * 8)
ftext(111.6, 1238, '震度（参考値）：' + INTENSITY_VALUE, 18.5, weight='bold')

# ---- spectra axes
SX0, SX1 = 1409, 2249
X_MAJOR = [0.01, 0.1, 1, 10]
X_LABELS = ['0.01', '0.10', '1.00', '10.00']
X_MINOR = [k * 10.0 ** e for e in (-2, -1, 0, 1) for k in range(2, 10) if k * 10.0 ** e < 60]
Y_MAJOR = [0.1, 1, 10, 100, 1000]
Y_LABELS = ['0.10', '1.00', '10.00', '100.00', '1000.00']
Y_MINOR = [k * 10.0 ** e for e in (-1, 0, 1, 2) for k in range(2, 10)]


def spec_axes(y0, y1):
    ax = px_axes(SX0, y0, SX1, y1)
    ax.set_xscale('log')
    ax.set_yscale('log')
    ax.set_xlim(0.01, 60)
    ax.set_ylim(0.1, 3000)
    for s in ax.spines.values():
        s.set_visible(True)
        s.set_color('black')
        s.set_linewidth(0.9)
    ax.set_xticks(X_MAJOR)
    ax.set_xticklabels(X_LABELS)
    ax.set_xticks(X_MINOR, minor=True)
    ax.xaxis.set_minor_formatter(NullFormatter())
    ax.set_yticks(Y_MAJOR)
    ax.set_yticklabels(Y_LABELS)
    ax.set_yticks(Y_MINOR, minor=True)
    ax.yaxis.set_minor_formatter(NullFormatter())
    ax.grid(which='major', color='black', lw=0.75, ls='-')
    ax.grid(which='minor', color=GRID_GRAY, lw=0.75, ls=DOT)
    ax.set_axisbelow(True)
    ax.tick_params(axis='x', which='major', length=0, labelsize=16, pad=pt(6), labelcolor='#111111')
    ax.tick_params(axis='y', which='major', length=0, labelsize=12, pad=pt(14), labelcolor='#111111')
    ax.tick_params(axis='x', which='minor', direction='in', length=pt(8), width=0.9, color='black',
                   bottom=True, top=False)
    ax.tick_params(axis='y', which='minor', direction='in', length=pt(8), width=0.9, color='black',
                   left=True, right=True)
    for lbl in ax.get_xticklabels():
        lbl.set_horizontalalignment('left')
    raise_labels(ax, [2] * 5)
    ax.set_xlabel('')
    ax.set_ylabel('')
    return ax


def draw(ax, x, y, color, lw):
    x = np.asarray(x, dtype=float)
    y = np.asarray(y, dtype=float)
    m = np.isfinite(y)
    sns.lineplot(x=x[m], y=y[m], ax=ax, color=color, linewidth=lw, estimator=None, sort=False)


# Fourier
ax_f = spec_axes(125.7, 725.3)
draw(ax_f, F_PERIOD, F_UD, BLUE, 1.4)
draw(ax_f, F_PERIOD, F_EW, GREEN, 1.4)
draw(ax_f, F_PERIOD, F_NS, RED, 1.4)
ax_f.set_xlim(0.01, 60)
ax_f.set_ylim(0.1, 3000)
ftext(1372, 103.6, 'cm/sec(gal·sec)', 11.5, color='#222222')
ftext(1688, 89.7, 'フーリエスペクトル', 22)
ftext(2014, 94.7, '0.4Hz band smoothing', 15.5)
ftext(2163, 752, 'sec', 15)
for lab, tx, lx0, lx1, col in (('NS', 1656, 1690, 1751, RED), ('EW', 1790, 1825, 1888, GREEN),
                               ('UD', 1930, 1962, 2024, BLUE)):
    ftext(tx, 776, lab, 11, color='#222222')
    fline(lx0, lx1, 776, col, 1.5)

# Response
ax_r = spec_axes(911.6, 1511.3)
for series, col, lw in ((R_UD, BLUE, 1.4), (R_EW, GREEN, 1.4), (R_NS, RED, 1.4), (R_H, 'black', 2.8)):
    draw(ax_r, [p[0] for p in series], [p[1] for p in series], col, lw)
ax_r.set_xlim(0.01, 60)
ax_r.set_ylim(0.1, 3000)
ftext(1372, 889.7, 'cm/sec', 11.5, color='#222222')
ftext(1652, 874.8, '相対速度応答スペクトル', 22)
ftext(2180, 879.8, 'h=5%', 15)
ftext(2163, 1538.6, 'sec', 15)
for lab, tx, lx0, lx1, col, lw in (('NS', 1565, 1598, 1660, RED, 1.5), ('EW', 1721, 1756, 1819, GREEN, 1.5),
                                   ('UD', 1883, 1915, 1977, BLUE, 1.5), ('Horizon', 2003, 2074, 2138, 'black', 3.0)):
    ftext(tx, 1560, lab, 11, color='#222222')
    fline(lx0, lx1, 1560, col, lw)

fig.savefig('out.png', dpi=100, facecolor='white')
